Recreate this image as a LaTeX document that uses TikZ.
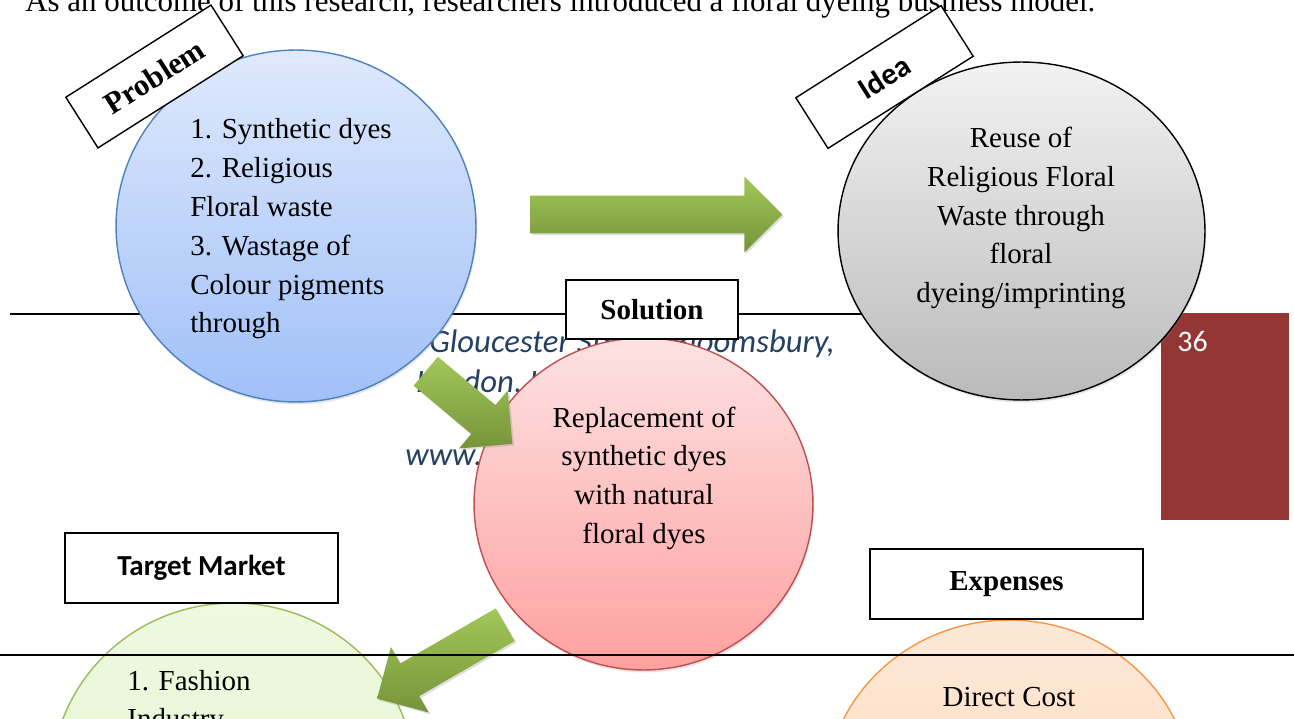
\documentclass[tikz,border=0pt]{standalone}
\usepackage{fontspec}
\setmainfont{Liberation Serif}
\setsansfont{Carlito}
\usetikzlibrary{shapes.geometric, shapes.arrows, shadows}

\definecolor{probtop}{RGB}{223,233,252}
\definecolor{probbot}{RGB}{160,192,248}
\definecolor{probline}{RGB}{79,129,189}
\definecolor{ideatop}{RGB}{242,242,242}
\definecolor{ideabot}{RGB}{186,186,186}
\definecolor{soltop}{RGB}{253,226,226}
\definecolor{solbot}{RGB}{255,160,160}
\definecolor{solline}{RGB}{192,80,77}
\definecolor{mkttop}{RGB}{238,249,224}
\definecolor{mktbot}{RGB}{226,243,203}
\definecolor{mktline}{RGB}{155,187,89}
\definecolor{costtop}{RGB}{253,233,216}
\definecolor{costbot}{RGB}{252,214,180}
\definecolor{costline}{RGB}{247,150,70}
\definecolor{arrowtop}{RGB}{162,199,88}
\definecolor{arrowbot}{RGB}{118,148,58}
\definecolor{pagered}{RGB}{148,54,52}
\definecolor{addrblue}{RGB}{36,64,98}

\tikzset{
  bubble/.style={ellipse, inner sep=0pt, line width=0.8pt,
    drop shadow={opacity=0.2, shadow xshift=0.6pt, shadow yshift=-1.4pt}},
  bubbletext/.style={inner sep=0pt, font=\fontsize{16.5}{22}\selectfont},
  tag/.style={draw, fill=white, line width=0.8pt, inner sep=0pt},
  tagtext/.style={font=\bfseries\fontsize{16.5}{20}\selectfont},
  addr/.style={inner sep=0pt, text=addrblue, font=\sffamily\itshape\fontsize{18.6}{22}\selectfont},
  blockarrow/.style={single arrow, single arrow head extend=0.38cm, inner sep=0.37cm,
    draw=none, top color=arrowtop, bottom color=arrowbot,
    drop shadow={opacity=0.25, shadow xshift=1pt, shadow yshift=-1pt}}
}

\begin{document}
\begin{tikzpicture}[x=0.02cm, y=-0.02cm]
    \clip (0,0) rectangle (1294,719);
    % page behind the diagram
    \node[inner sep=0pt, anchor=base west, font=\fontsize{17.6}{20}\selectfont] (intro) at (25,12)
      {As an outcome of this research, researchers introduced a floral dyeing business model.};
    \draw[line width=0.8pt] (10,314) -- (1160,314);
    \node[fill=pagered, inner sep=0pt, minimum width=2.56cm, minimum height=4.14cm, anchor=north west] (pagebox) at (1161,313) {};
    \node[inner sep=0pt, anchor=base west, text=white, font=\sffamily\fontsize{17}{20}\selectfont] (pagenum) at (1177,352) {36};
    \node[addr, anchor=base west] (addr1) at (429,353) {Gloucester Street, Bloomsbury,};
    \node[addr, anchor=base west] (addr2) at (416,392) {London, UK};
    \node[addr, anchor=base west] (addr3) at (405,465) {www.};

    % circles
    \node[bubble, draw=probline, top color=probtop, bottom color=probbot,
      minimum width=7.2cm, minimum height=7.04cm] (problem) at (296,226) {};
    \node[bubble, draw=black, top color=ideatop, bottom color=ideabot,
      minimum width=7.34cm, minimum height=6.76cm] (idea) at (1021.5,231) {};
    \node[bubble, draw=solline, top color=soltop, bottom color=solbot,
      minimum width=6.78cm, minimum height=6.64cm] (solution) at (643.5,504) {};
    \node[bubble, draw=mktline, top color=mkttop, bottom color=mktbot,
      minimum width=7.28cm, minimum height=7.12cm] (market) at (233.5,781) {};
    \node[bubble, draw=costline, top color=costtop, bottom color=costbot,
      minimum width=7.36cm, minimum height=7.04cm] (expenses) at (1009,796) {};

    \foreach \ln [count=\i] in {1. Synthetic dyes, 2. Religious, Floral waste, 3. Wastage of, Colour pigments, through}
      \node[bubbletext, anchor=base west] (prob\i) at (190,{139+(\i-1)*38.8}) {\ln};
    \foreach \ln [count=\i] in {Reuse of, Religious Floral, Waste through, floral, dyeing/imprinting}
      \node[bubbletext, anchor=base] (idea\i) at (1021,{148+(\i-1)*38.6}) {\ln};
    \foreach \ln [count=\i] in {Replacement of, synthetic dyes, with natural, floral dyes}
      \node[bubbletext, anchor=base] (sol\i) at (644,{427+(\i-1)*38.7}) {\ln};
    \foreach \ln [count=\i] in {1. Fashion, Industry}
      \node[bubbletext, anchor=base west] (mkt\i) at (127,{690+(\i-1)*38.8}) {\ln};
    \node[bubbletext, anchor=base] (cost1) at (1009,706) {Direct Cost};

    % headings
    \node[tag, rotate=32.4, minimum width=3.44cm, minimum height=1.2cm,
      font=\rmfamily\bfseries\fontsize{17.5}{20}\selectfont] (problemtag) at (154.5,76.5) {Problem};
    \node[tag, rotate=32.4, minimum width=3.44cm, minimum height=1.2cm,
      font=\sffamily\bfseries\fontsize{17.5}{20}\selectfont] (ideatag) at (884.5,77) {Idea};
    \node[tag, tagtext, minimum width=3.44cm, minimum height=1.18cm] (soltag) at (652,309.5) {Solution};
    \node[tag, tagtext, font=\sffamily\bfseries\fontsize{16.5}{20}\selectfont,
      minimum width=5.46cm, minimum height=1.4cm] (mkttag) at (201.5,568) {Target Market};
    \node[tag, tagtext, minimum width=5.46cm, minimum height=1.4cm] (costtag) at (1006.5,584) {Expenses};

    % block arrows
    \node[blockarrow, minimum height=5.04cm, anchor=tail] (toidea) at (530,214.5) {};
    \node[blockarrow, minimum height=2.26cm, rotate=-40, anchor=tail] (tosol) at (425.5,371) {};
    \node[blockarrow, minimum height=2.96cm, rotate=-150, anchor=tail] (tomkt) at (505.5,624.5) {};

    \draw[line width=1.1pt] (0,655) -- (1294,655);
\end{tikzpicture}
\end{document}
